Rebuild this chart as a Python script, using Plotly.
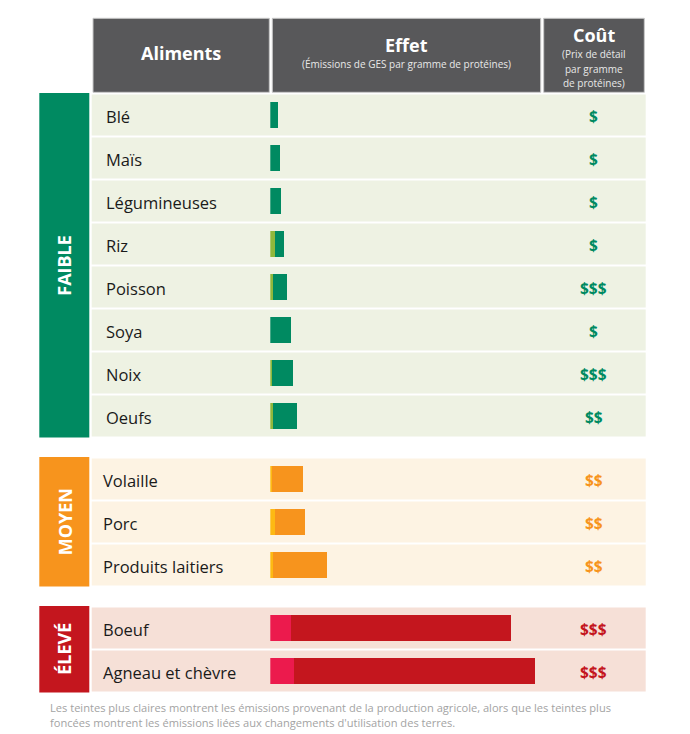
import plotly.graph_objects as go

# Data (bar lengths in chart units)
foods = ["Blé", "Maïs", "Légumineuses", "Riz", "Poisson", "Soya", "Noix", "Oeufs",
         "Volaille", "Porc", "Produits laitiers",
         "Boeuf", "Agneau et chèvre"]
groups = ["FAIBLE"] * 8 + ["MOYEN"] * 3 + ["ÉLEVÉ"] * 2
light_part = [0, 0, 0, 0.5, 0.3, 0, 0.13, 0.23, 0.2, 0.5, 0.3, 2.07, 2.37]
dark_part = [0.73, 1.0, 1.1, 0.87, 1.37, 2.07, 2.1, 2.4, 3.1, 3.0, 5.4, 22.0, 24.13]
cost = ["$", "$", "$", "$", "$$$", "$", "$$$", "$$", "$$", "$$", "$$", "$$$", "$$$"]

group_names = ["FAIBLE", "MOYEN", "ÉLEVÉ"]
group_box = {"FAIBLE": "#008a61", "MOYEN": "#f7941d", "ÉLEVÉ": "#c4161e"}
group_bg = {"FAIBLE": "#eef2e3", "MOYEN": "#fdf3e3", "ÉLEVÉ": "#f6e0d7"}
light_col = {"FAIBLE": "#8fb83c", "MOYEN": "#fdb913", "ÉLEVÉ": "#ec1a4d"}
dark_col = {"FAIBLE": "#008a61", "MOYEN": "#f7941d", "ÉLEVÉ": "#c4161e"}

W, H = 690, 734
OFF = 8  # page body margin, so page pixels line up with axis units
FONT = "Open Sans"

# row layout (pixels)
top0, pitch, row_h, group_gap = 94.5, 43, 41, 22
row_top = []
y = top0
prev = groups[0]
for g in groups:
    if g != prev:
        y += group_gap - 2
        prev = g
    row_top.append(y)
    y += pitch
centers = [t + row_h / 2 for t in row_top]

fig = go.Figure()
shapes = []
ann = []

# header boxes
hdr_top, hdr_bot = 18.3, 92.3
for x0, x1 in [(93, 269.3), (272.3, 540.7), (543.7, 644.3)]:
    shapes.append(dict(type="rect", xref="x", yref="y", x0=x0, x1=x1, y0=hdr_top, y1=hdr_bot,
                       fillcolor="#58585a", line=dict(color="#c8c8c8", width=1), layer="below"))

ann.append(dict(x=181, y=53, text="<b>Aliments</b>", font=dict(size=18, color="white")))
ann.append(dict(x=406.5, y=45, text="<b>Effet</b>", font=dict(size=18, color="white")))
ann.append(dict(x=406.5, y=64, text="(Émissions de GES par gramme de protéines)",
                font=dict(size=10, color="#e8e8e8")))
ann.append(dict(x=594, y=35, text="<b>Coût</b>", font=dict(size=18, color="white")))
for i, line in enumerate(["(Prix de détail", "par gramme", "de protéines)"]):
    ann.append(dict(x=594, y=54 + 14.5 * i, text=line, font=dict(size=10, color="#e8e8e8")))

# row backgrounds, labels, cost
for i, f in enumerate(foods):
    g = groups[i]
    shapes.append(dict(type="rect", xref="x", yref="y", x0=91.7, x1=645.7,
                       y0=row_top[i], y1=row_top[i] + row_h,
                       fillcolor=group_bg[g], line=dict(width=0), layer="below"))
    ann.append(dict(x=103.5 if g == "FAIBLE" else 100.5, y=centers[i] + 1, text=f, xanchor="left",
                    font=dict(size=16.5, color="#1a1a1a")))
    ann.append(dict(x=593.5, y=centers[i] + 1, text="<b>%s</b>" % cost[i],
                    font=dict(size=15.5, color=dark_col[g])))

# group boxes
for g in group_names:
    idx = [i for i in range(len(groups)) if groups[i] == g]
    y0 = row_top[idx[0]] - 1.5
    y1 = row_top[idx[-1]] + row_h + 1
    shapes.append(dict(type="rect", xref="x", yref="y", x0=39.3, x1=89.3, y0=y0, y1=y1,
                       fillcolor=group_box[g], line=dict(width=0), layer="below"))
    ann.append(dict(x=64.5, y=(y0 + y1) / 2, text="<b>%s</b>" % g, textangle=-90,
                    font=dict(size=18, color="white")))

# footnote
ann.append(dict(x=48, y=707, xanchor="left",
                text="Les teintes plus claires montrent les émissions provenant de la production agricole, alors que les teintes plus",
                font=dict(size=11.1, color="#a3a3a3")))
ann.append(dict(x=48, y=722, xanchor="left",
                text="foncées montrent les émissions liées aux changements d'utilisation des terres.",
                font=dict(size=11.1, color="#a3a3a3")))

for a in ann:
    a.setdefault("xref", "x")
    a.setdefault("yref", "y")
    a.setdefault("showarrow", False)
    a.setdefault("xanchor", "center")
    a.setdefault("yanchor", "middle")

# bars
fig.add_trace(go.Bar(x=light_part, y=centers, orientation="h", width=25.7,
                     marker=dict(color=[light_col[g] for g in groups], line=dict(width=0)),
                     xaxis="x2", yaxis="y", hoverinfo="skip"))
fig.add_trace(go.Bar(x=dark_part, y=centers, orientation="h", width=25.7,
                     marker=dict(color=[dark_col[g] for g in groups], line=dict(width=0)),
                     xaxis="x2", yaxis="y", hoverinfo="skip"))

fig.update_layout(
    width=W, height=H,
    margin=dict(l=0, r=0, t=0, b=0),
    paper_bgcolor="white", plot_bgcolor="rgba(0,0,0,0)",
    barmode="stack", showlegend=False,
    font=dict(family=FONT),
    xaxis=dict(range=[OFF, W + OFF], visible=False, fixedrange=True, domain=[0, 1]),
    xaxis2=dict(range=[0, 27.05], visible=False, fixedrange=True, anchor="y",
                domain=[(270.3 - OFF) / W, (540.8 - OFF) / W]),
    yaxis=dict(range=[H + OFF, OFF], visible=False, fixedrange=True, anchor="x"),
    shapes=shapes,
    annotations=ann,
)

fig.write_html("out.html")
